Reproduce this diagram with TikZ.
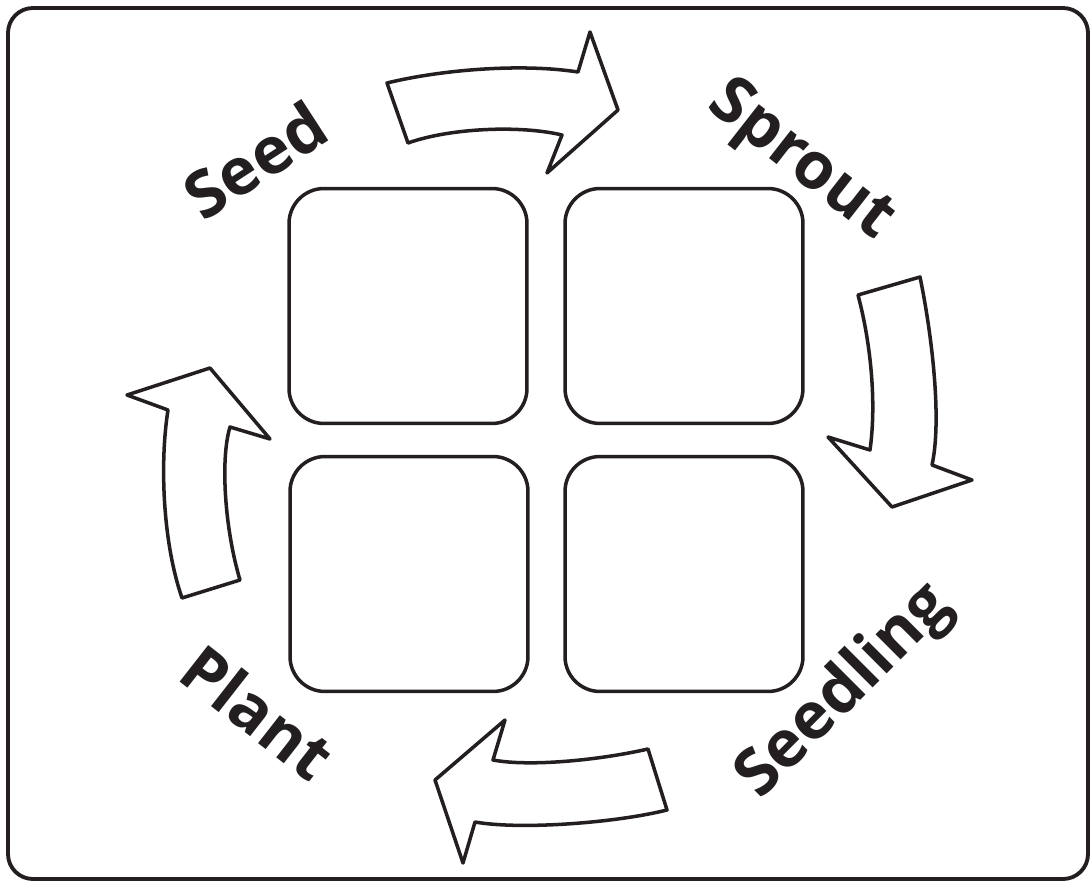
\documentclass[tikz,border=0pt]{standalone}
\usepackage{fontspec}
\newfontfamily\stagefont{Open Sans}
\definecolor{ink}{RGB}{35,31,32}
\tikzset{
    frame/.style={draw=ink, line width=2.2pt, rounded corners=0.5cm},
    stagebox/.style={rectangle, rounded corners=0.7cm, draw=ink, line width=2pt, minimum width=4.76cm, minimum height=4.7cm},
    stagelbl/.style={font=\stagefont\bfseries\fontsize{37}{40}\selectfont, text=ink, inner sep=0pt},
    cyclearr/.style={draw=ink, fill=white, line width=2pt, line join=round}
}

\begin{document}
\begin{tikzpicture}[x=0.02cm, y=-0.02cm]
    \useasboundingbox (0,0) rectangle (1092,882);
    \draw[frame] (8,8) rectangle (1088,879);
    % the four empty boxes
    \node[stagebox] (seedbox) at (408,306) {};
    \node[stagebox] (sproutbox) at (684,306) {};
    \node[stagebox] (plantbox) at (409,574) {};
    \node[stagebox] (seedlingbox) at (684,574) {};
    % stage names
    \node[stagelbl, rotate=33] (seed) at (255,160) {Seed};
    \node[stagelbl, rotate=-38] (sprout) at (800,162) {Sprout};
    \node[stagelbl, rotate=45] (seedling) at (845,692) {Seedling};
    \node[stagelbl, rotate=-38] (plant) at (258,712) {Plant};
    % block arrows round the cycle
    \draw[cyclearr] (387,83) .. controls (440,70) and (520,63) .. (578,72)
        -- (590,32) -- (618,110) -- (547,173) -- (562,135)
        .. controls (520,125) and (450,128) .. (408,143) -- cycle;
    \draw[cyclearr] (858,295) -- (920,277) .. controls (932,335) and (942,420) .. (932,465)
        -- (972,480) -- (892,507) -- (828,437) -- (870,450)
        .. controls (877,400) and (870,340) .. cycle;
    \draw[cyclearr] (648,749) -- (667,810) .. controls (615,823) and (520,830) .. (475,822)
        -- (463,863) -- (435,780) -- (505,720) -- (493,760)
        .. controls (530,767) and (600,760) .. cycle;
    \draw[cyclearr] (182,598) -- (240,580) .. controls (225,530) and (220,460) .. (230,427)
        -- (270,439) -- (210,368) -- (127,395) -- (168,410)
        .. controls (160,460) and (162,540) .. cycle;
\end{tikzpicture}
\end{document}
